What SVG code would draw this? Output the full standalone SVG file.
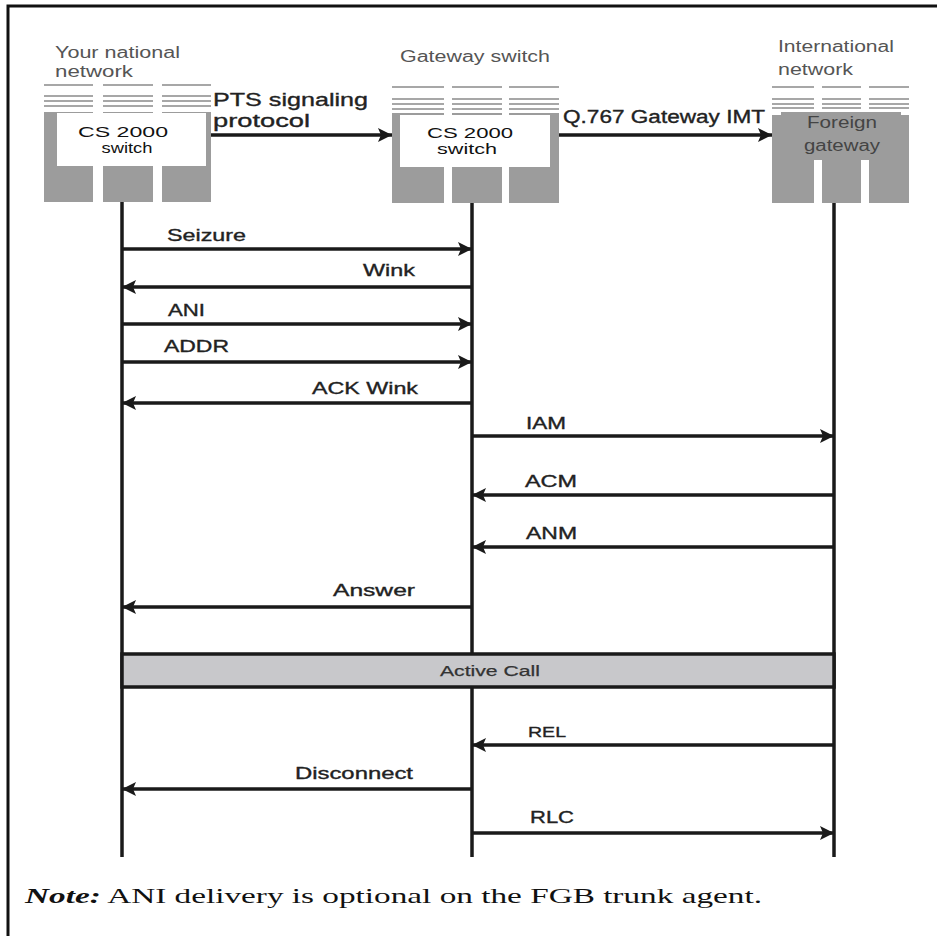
<svg xmlns="http://www.w3.org/2000/svg" width="937" height="936" viewBox="0 0 937 936">
<style>
.frame{fill:none;stroke:#111;stroke-width:3}
.col{fill:#9c9c9c}
.hl{stroke:#8a8a8a;stroke-width:1.6}
.box{fill:#fff}
.head{font-family:"Liberation Sans",Arial,sans-serif;font-size:16px;fill:#555}
.cs{font-family:"Liberation Sans",Arial,sans-serif;font-size:15px;fill:#111;text-anchor:middle}
.lbl{font-family:"Liberation Sans",Arial,sans-serif;font-size:17px;fill:#222;stroke:#222;stroke-width:0.35}
.life{stroke:#1a1a1a;stroke-width:3.5}
.msg{stroke:#1a1a1a;stroke-width:3.5;fill:none;marker-end:url(#ah)}
.note{font-family:"Liberation Serif","Times New Roman",serif;font-size:21px;fill:#111}
</style>
<defs>
<marker id="ah" markerUnits="userSpaceOnUse" markerWidth="16" markerHeight="16" refX="14" refY="7" orient="auto">
<path d="M0,0 L14,7 L0,14 L3,7 z" fill="#1a1a1a"/>
</marker>
</defs>
<path class="frame" d="M8,936 L8,6 L937,6"/>

<g id="node-national">
<text class="head" x="55" y="58" textLength="125" lengthAdjust="spacingAndGlyphs">Your national</text>
<text class="head" x="55" y="77" textLength="78" lengthAdjust="spacingAndGlyphs">network</text>
<g class="hl">
<line x1="44" y1="85" x2="93" y2="85"/><line x1="44" y1="96" x2="93" y2="96"/><line x1="44" y1="101" x2="93" y2="101"/><line x1="44" y1="106" x2="93" y2="106"/>
<line x1="103" y1="85" x2="153" y2="85"/><line x1="103" y1="96" x2="153" y2="96"/><line x1="103" y1="101" x2="153" y2="101"/><line x1="103" y1="106" x2="153" y2="106"/>
<line x1="162" y1="85" x2="211" y2="85"/><line x1="162" y1="96" x2="211" y2="96"/><line x1="162" y1="101" x2="211" y2="101"/><line x1="162" y1="106" x2="211" y2="106"/>
</g>
<rect class="col" x="44" y="112" width="49" height="90"/>
<rect class="col" x="103" y="112" width="50" height="90"/>
<rect class="col" x="162" y="112" width="49" height="90"/>
<rect class="box" x="57" y="113" width="149" height="53"/>
<text class="cs" x="123" y="137" textLength="90" lengthAdjust="spacingAndGlyphs">CS 2000</text>
<text class="cs" x="127" y="153" textLength="51" lengthAdjust="spacingAndGlyphs">switch</text>
</g>

<g id="node-gateway">
<text class="head" x="475" y="62" text-anchor="middle" textLength="150" lengthAdjust="spacingAndGlyphs">Gateway switch</text>
<g class="hl">
<line x1="392" y1="87" x2="444" y2="87"/><line x1="392" y1="99" x2="444" y2="99"/><line x1="392" y1="104" x2="444" y2="104"/><line x1="392" y1="109" x2="444" y2="109"/>
<line x1="452" y1="87" x2="502" y2="87"/><line x1="452" y1="99" x2="502" y2="99"/><line x1="452" y1="104" x2="502" y2="104"/><line x1="452" y1="109" x2="502" y2="109"/>
<line x1="509" y1="87" x2="559" y2="87"/><line x1="509" y1="99" x2="559" y2="99"/><line x1="509" y1="104" x2="559" y2="104"/><line x1="509" y1="109" x2="559" y2="109"/>
</g>
<rect class="col" x="392" y="113" width="52" height="90"/>
<rect class="col" x="452" y="113" width="50" height="90"/>
<rect class="col" x="509" y="113" width="50" height="90"/>
<rect class="box" x="400" y="115" width="150" height="52"/>
<text class="cs" x="470" y="138" textLength="86" lengthAdjust="spacingAndGlyphs">CS 2000</text>
<text class="cs" x="467" y="154" textLength="60" lengthAdjust="spacingAndGlyphs">switch</text>
</g>

<g id="node-foreign">
<text class="head" x="778" y="52" textLength="116" lengthAdjust="spacingAndGlyphs">International</text>
<text class="head" x="778" y="75" textLength="75" lengthAdjust="spacingAndGlyphs">network</text>
<g class="hl">
<line x1="772" y1="87" x2="814" y2="87"/><line x1="772" y1="99" x2="814" y2="99"/><line x1="772" y1="104" x2="814" y2="104"/><line x1="772" y1="108" x2="814" y2="108"/>
<line x1="822" y1="87" x2="861" y2="87"/><line x1="822" y1="99" x2="861" y2="99"/><line x1="822" y1="104" x2="861" y2="104"/><line x1="822" y1="108" x2="861" y2="108"/>
<line x1="869" y1="87" x2="909" y2="87"/><line x1="869" y1="99" x2="909" y2="99"/><line x1="869" y1="104" x2="909" y2="104"/><line x1="869" y1="108" x2="909" y2="108"/>
</g>
<path class="col" d="M772,115 L781,115 L781,112 L901,112 L901,115 L909,115 L909,203 L869,203 L869,160 L861,160 L861,203 L822,203 L822,160 L814,160 L814,203 L772,203 z"/>
<text class="head" x="842" y="128" text-anchor="middle" style="fill:#444" textLength="70" lengthAdjust="spacingAndGlyphs">Foreign</text>
<text class="head" x="842" y="151" text-anchor="middle" style="fill:#444" textLength="76" lengthAdjust="spacingAndGlyphs">gateway</text>
</g>

<g id="lifelines">
<line class="life" x1="122" y1="202" x2="122" y2="857"/>
<line class="life" x1="472" y1="203" x2="472" y2="857"/>
<line class="life" x1="834" y1="203" x2="834" y2="857"/>
</g>

<g id="activecall">
<rect x="122" y="654" width="712" height="33" fill="#c8c8cb" stroke="#1a1a1a" stroke-width="3.5"/>
<text class="lbl" x="490" y="676" text-anchor="middle" style="font-size:15px;fill:#333;stroke:#333;stroke-width:0.25" textLength="100" lengthAdjust="spacingAndGlyphs">Active Call</text>
</g>

<g id="connectors">
<line class="msg" x1="211" y1="135" x2="392" y2="135"/>
<line class="msg" x1="559" y1="135" x2="772" y2="135"/>
<line class="msg" x1="122" y1="249" x2="472" y2="249"/>
<line class="msg" x1="472" y1="287" x2="122" y2="287"/>
<line class="msg" x1="122" y1="324" x2="472" y2="324"/>
<line class="msg" x1="122" y1="362" x2="472" y2="362"/>
<line class="msg" x1="472" y1="403" x2="122" y2="403"/>
<line class="msg" x1="472" y1="436" x2="834" y2="436"/>
<line class="msg" x1="834" y1="495" x2="472" y2="495"/>
<line class="msg" x1="834" y1="547" x2="472" y2="547"/>
<line class="msg" x1="472" y1="607" x2="122" y2="607"/>
<line class="msg" x1="834" y1="745" x2="472" y2="745"/>
<line class="msg" x1="472" y1="789" x2="122" y2="789"/>
<line class="msg" x1="472" y1="833" x2="834" y2="833"/>
</g>

<g id="labels">
<text class="lbl" x="213" y="106" textLength="155" lengthAdjust="spacingAndGlyphs" style="font-size:19px">PTS signaling</text>
<text class="lbl" x="213" y="127" textLength="97" lengthAdjust="spacingAndGlyphs" style="font-size:19px">protocol</text>
<text class="lbl" x="563" y="123" textLength="202" lengthAdjust="spacingAndGlyphs" style="font-size:18px">Q.767 Gateway IMT</text>
<text class="lbl" x="167" y="241" textLength="79" lengthAdjust="spacingAndGlyphs">Seizure</text>
<text class="lbl" x="363" y="276" textLength="52" lengthAdjust="spacingAndGlyphs">Wink</text>
<text class="lbl" x="168" y="316" textLength="37" lengthAdjust="spacingAndGlyphs">ANI</text>
<text class="lbl" x="164" y="352" textLength="65" lengthAdjust="spacingAndGlyphs">ADDR</text>
<text class="lbl" x="312" y="394" textLength="106" lengthAdjust="spacingAndGlyphs">ACK Wink</text>
<text class="lbl" x="526" y="429" textLength="40" lengthAdjust="spacingAndGlyphs">IAM</text>
<text class="lbl" x="525" y="487" textLength="52" lengthAdjust="spacingAndGlyphs">ACM</text>
<text class="lbl" x="526" y="539" textLength="51" lengthAdjust="spacingAndGlyphs">ANM</text>
<text class="lbl" x="333" y="596" textLength="82" lengthAdjust="spacingAndGlyphs">Answer</text>
<text class="lbl" x="528" y="737" textLength="38" lengthAdjust="spacingAndGlyphs" style="font-size:15px">REL</text>
<text class="lbl" x="295" y="779" textLength="118" lengthAdjust="spacingAndGlyphs">Disconnect</text>
<text class="lbl" x="530" y="823" textLength="44" lengthAdjust="spacingAndGlyphs">RLC</text>
</g>

<g id="note">
<text class="note" x="25" y="903" textLength="737" lengthAdjust="spacingAndGlyphs"><tspan font-style="italic" font-weight="bold">Note:</tspan>  ANI delivery is optional on the FGB trunk agent.</text>
</g>
</svg>
